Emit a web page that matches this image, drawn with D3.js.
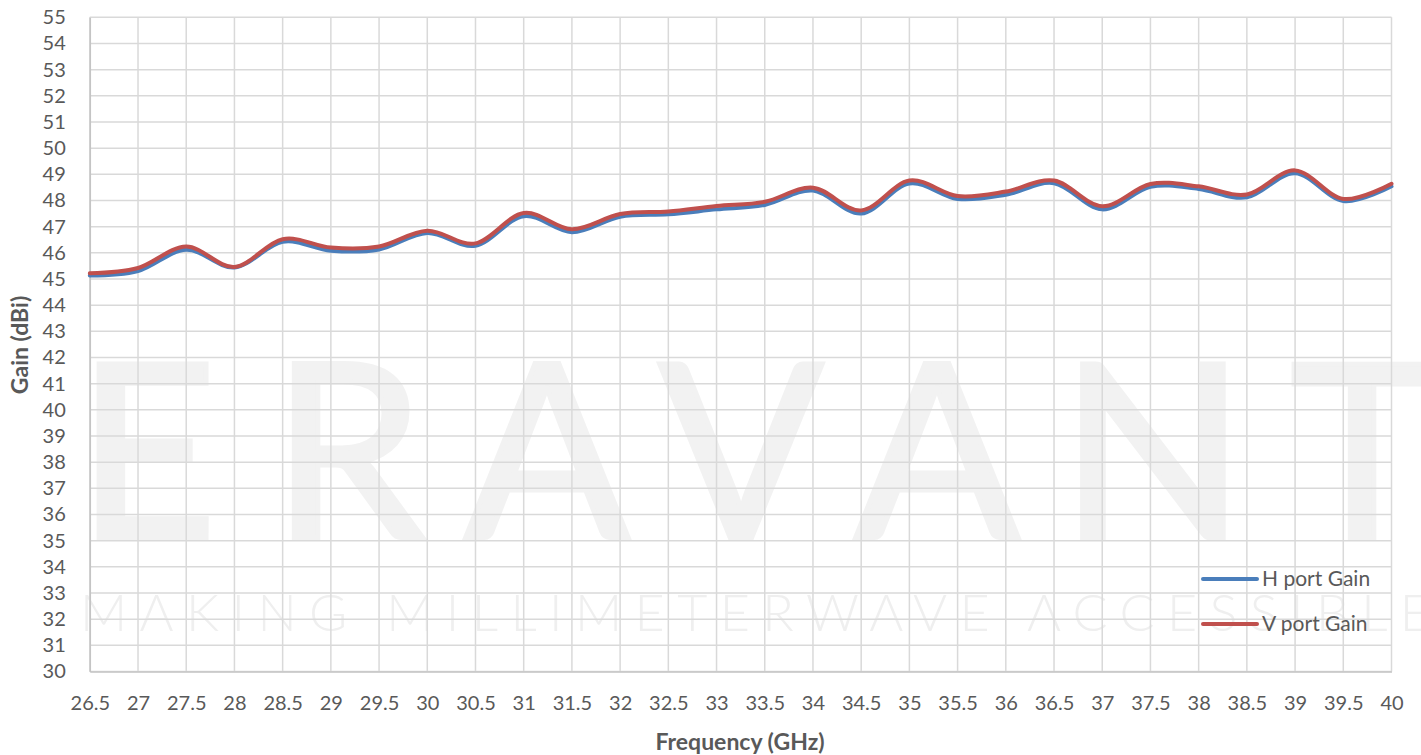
<!DOCTYPE html>
<html>
<head>
<meta charset="utf-8">
<script src="https://cdn.jsdelivr.net/npm/d3@7"></script>
<style>
  body { margin: 0; background: #fff; }
  svg { display: block; font-family: Lato, "Open Sans", sans-serif; }
</style>
</head>
<body>
<div id="chart"></div>
<script>
var freqs = [26.5, 27, 27.5, 28, 28.5, 29, 29.5, 30, 30.5, 31, 31.5, 32, 32.5, 33, 33.5, 34, 34.5, 35, 35.5, 36, 36.5, 37, 37.5, 38, 38.5, 39, 39.5, 40];
var hGain = [45.13, 45.3, 46.12, 45.44, 46.42, 46.08, 46.13, 46.76, 46.27, 47.4, 46.79, 47.38, 47.47, 47.66, 47.83, 48.38, 47.5, 48.65, 48.06, 48.22, 48.66, 47.66, 48.52, 48.44, 48.12, 49.04, 47.98, 48.54];
var vGain = [45.22, 45.42, 46.24, 45.46, 46.52, 46.2, 46.24, 46.84, 46.36, 47.52, 46.9, 47.48, 47.58, 47.79, 47.95, 48.49, 47.62, 48.76, 48.17, 48.34, 48.76, 47.78, 48.63, 48.54, 48.23, 49.15, 48.06, 48.64];
var yTicks = d3.range(30, 56, 1);
var seriesNames = ["H port Gain", "V port Gain"];
var seriesColors = ["#4a7ebb", "#c0504d"];

var W = 1421, H = 755;
var margin = {top: 17.3, right: 29.5, bottom: 83.5, left: 89.8};
var width = W - margin.left - margin.right;
var height = H - margin.top - margin.bottom;

var svg = d3.select("#chart").append("svg")
    .attr("width", W)
    .attr("height", H);

// watermark (logo behind the plot)
var logo = [["E", 147], ["R", 348], ["A", 547], ["V", 741], ["A", 937], ["N", 1153], ["T", 1362]];
svg.append("g").selectAll("text")
    .data(logo)
  .enter().append("text")
    .attr("x", function(d) { return d[1]; })
    .attr("y", 538)
    .attr("text-anchor", "middle")
    .style("font-size", "242px")
    .style("fill", "#f2f2f2")
    .style("stroke", "#f2f2f2")
    .style("stroke-width", 5)
    .text(function(d) { return d[0]; });
svg.append("text")
    .attr("x", 80)
    .attr("y", 631)
    .attr("textLength", 1350)
    .attr("lengthAdjust", "spacing")
    .style("font-size", "52px")
    .style("font-weight", "300")
    .style("fill", "#efefef")
    .text("MAKING MILLIMETERWAVE ACCESSIBLE");

var g = svg.append("g")
    .attr("transform", "translate(" + margin.left + "," + margin.top + ")");

var x = d3.scaleLinear().domain([26.5, 40]).range([0, width]);
var y = d3.scaleLinear().domain([30, 55]).range([height, 0]);

// grid
g.append("g")
    .selectAll("line")
    .data(yTicks)
  .enter().append("line")
    .attr("x1", 0).attr("x2", width)
    .attr("y1", function(d) { return y(d); })
    .attr("y2", function(d) { return y(d); })
    .style("stroke", "#d9d9d9")
    .style("stroke-width", 1.5);
g.append("g")
    .selectAll("line")
    .data(freqs)
  .enter().append("line")
    .attr("y1", 0).attr("y2", height)
    .attr("x1", function(d) { return x(d); })
    .attr("x2", function(d) { return x(d); })
    .style("stroke", "#d9d9d9")
    .style("stroke-width", 1.5);

// axes
var yAxis = g.append("g")
    .call(d3.axisLeft(y).tickValues(yTicks).tickSize(0).tickPadding(24));
var xAxis = g.append("g")
    .attr("transform", "translate(0," + height + ")")
    .call(d3.axisBottom(x).tickValues(freqs).tickSize(0).tickPadding(24)
      .tickFormat(function(d) { return d; }));
[yAxis, xAxis].forEach(function(a) {
  a.select(".domain").style("stroke", "#c4c4c4").style("stroke-width", 1.5);
  a.selectAll("text").style("font-size", "20px").style("fill", "#595959")
    .style("font-family", "Lato, sans-serif");
});
xAxis.selectAll("text").attr("dy", "0.71em");

// lines
var line = d3.line()
    .x(function(d, i) { return x(freqs[i]); })
    .y(function(d) { return y(d); })
    .curve(d3.curveCatmullRom.alpha(0));

[hGain, vGain].forEach(function(s, i) {
  g.append("path")
    .datum(s)
    .attr("d", line)
    .style("fill", "none")
    .style("stroke", seriesColors[i])
    .style("stroke-width", 4)
    .style("stroke-linejoin", "round")
    .style("stroke-linecap", "round");
});

// legend
var legend = svg.append("g");
seriesNames.forEach(function(n, i) {
  var ly = 579 + i * 45;
  legend.append("line")
    .attr("x1", 1203).attr("x2", 1257)
    .attr("y1", ly).attr("y2", ly)
    .style("stroke", seriesColors[i])
    .style("stroke-width", 4)
    .style("stroke-linecap", "round");
  legend.append("text")
    .attr("x", 1262)
    .attr("y", ly)
    .attr("dy", "0.35em")
    .style("font-size", "21px")
    .style("fill", "#595959")
    .text(n);
});

// axis titles
svg.append("text")
  .attr("transform", "translate(28," + 345 + ") rotate(-90)")
  .attr("text-anchor", "middle")
  .style("font-size", "23px")
  .style("font-weight", "bold")
  .style("fill", "#595959")
  .text("Gain (dBi)");
svg.append("text")
  .attr("x", 740)
  .attr("y", 750)
  .attr("text-anchor", "middle")
  .style("font-size", "23px")
  .style("font-weight", "bold")
  .style("fill", "#595959")
  .text("Frequency (GHz)");
</script>
</body>
</html>
